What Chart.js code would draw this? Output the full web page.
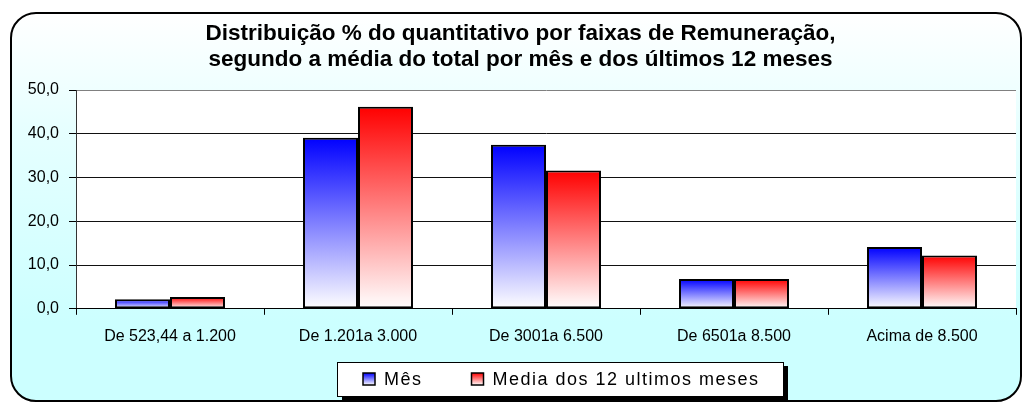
<!DOCTYPE html>
<html>
<head>
<meta charset="utf-8">
<script src="https://cdn.jsdelivr.net/npm/chart.js@4/dist/chart.umd.min.js"></script>
<style>
    body { margin: 0; background: #ffffff; }
    #frame {
        position: absolute; left: 10px; top: 12px; width: 1008px; height: 386px;
        border: 2px solid #000; border-radius: 26px;
        background: linear-gradient(to bottom, #ffffff 0%, #e6ffff 30%, #ccffff 80%, #ccffff 100%);
    }
    #wrap { position: absolute; left: 0; top: 0; width: 1026px; height: 404px; }
</style>
</head>
<body>
<div id="frame"></div>
<div id="wrap"><canvas id="chart" width="1026" height="404"></canvas></div>
<script>
/* ==========================================
   DISTRIBUICAO POR FAIXAS DE REMUNERACAO
   ========================================== */

const categories = ['De 523,44 a 1.200', 'De 1.201a 3.000', 'De 3001a 6.500', 'De 6501a 8.500', 'Acima de 8.500'];
const mesValues = [2.2, 39.1, 37.5, 6.8, 14.1];
const mediaValues = [2.7, 46.2, 31.6, 6.8, 12.2];
const seriesNames = ['Mês', 'Media dos 12 ultimos meses'];
const yTicks = [0, 10, 20, 30, 40, 50];
const titleLines = ['Distribuição % do quantitativo por faixas de Remuneração,', 'segundo a média do total por mês e dos últimos 12 meses'];

const FONT = "'Liberation Sans', Arial, sans-serif";

// vertical gradient from the bar top down to the zero line
function barFill(strong, light) {
    return function (context) {
        const chart = context.chart;
        if (context.type !== 'data' || !chart.chartArea) return light;
        const y = chart.scales.y;
        const top = y.getPixelForValue(context.raw);
        const base = y.getPixelForValue(0);
        const g = chart.ctx.createLinearGradient(0, top, 0, base);
        g.addColorStop(0, strong);
        g.addColorStop(1, '#ffffff');
        return g;
    };
}

function legendSwatch(ctx, x, y, strong) {
    const g = ctx.createLinearGradient(0, y, 0, y + 12);
    g.addColorStop(0, strong);
    g.addColorStop(1, '#ffffff');
    ctx.fillStyle = g;
    ctx.fillRect(x, y, 12, 12);
    ctx.strokeStyle = '#000';
    ctx.lineWidth = 1.5;
    ctx.strokeRect(x, y, 12, 12);
}

const swatchColors = ['#0000ff', '#ff0000'];

const plotBackground = {
    id: 'plotBackground',
    beforeDraw(chart) {
        const { ctx, chartArea } = chart;
        ctx.save();
        ctx.fillStyle = '#ffffff';
        ctx.fillRect(chartArea.left, chartArea.top, chartArea.right - chartArea.left, chartArea.bottom - chartArea.top);
        ctx.restore();
    },
    afterDraw(chart) {
        // framed legend with shadow, as in the spreadsheet chart
        const ctx = chart.ctx;
        const box = { x: 337, y: 362, w: 446, h: 34 };
        ctx.save();
        ctx.fillStyle = '#000';
        ctx.fillRect(box.x + 5, box.y + 4, box.w, box.h);
        ctx.fillStyle = '#fff';
        ctx.fillRect(box.x, box.y, box.w, box.h);
        ctx.strokeStyle = '#000';
        ctx.lineWidth = 1;
        ctx.strokeRect(box.x + 0.5, box.y + 0.5, box.w, box.h);

        ctx.font = '18px ' + FONT;
        if ('letterSpacing' in ctx) ctx.letterSpacing = '1.5px';
        ctx.textBaseline = 'middle';
        let x = 363;
        const cy = 379;
        chart.data.datasets.forEach((ds, i) => {
            legendSwatch(ctx, x, cy - 6, swatchColors[i]);
            x += 21;
            ctx.fillStyle = '#000';
            ctx.fillText(ds.label, x, cy + 1);
            x += ctx.measureText(ds.label).width + 49;
        });
        ctx.restore();
    }
};

function initChart() {
    const ctx = document.getElementById('chart');

    new Chart(ctx, {
        type: 'bar',
        data: {
            labels: categories,
            datasets: [{
                label: seriesNames[0],
                data: mesValues,
                backgroundColor: barFill('#0000ff', '#8080ff'),
                borderColor: '#000',
                borderWidth: 2,
                borderSkipped: false
            }, {
                label: seriesNames[1],
                data: mediaValues,
                backgroundColor: barFill('#ff0000', '#ff8080'),
                borderColor: '#000',
                borderWidth: 2,
                borderSkipped: false
            }]
        },
        options: {
            responsive: false,
            animation: false,
            devicePixelRatio: 1,
            layout: {
                padding: { left: 25, right: 10, top: 0, bottom: 46 }
            },
            datasets: {
                bar: {
                    categoryPercentage: 0.585,
                    barPercentage: 1
                }
            },
            plugins: {
                legend: { display: false },
                tooltip: { enabled: false },
                title: {
                    display: true,
                    text: titleLines,
                    color: '#000',
                    font: { family: FONT, size: 22.5, weight: 'bold', lineHeight: 26 / 22.5 },
                    padding: { top: 21, bottom: 17 }
                }
            },
            scales: {
                y: {
                    min: 0,
                    max: 50,
                    afterFit: function (axis) {
                        axis.width = 51;
                    },
                    afterBuildTicks: function (axis) {
                        axis.ticks = yTicks.map(v => ({ value: v }));
                    },
                    border: { color: '#333', width: 1 },
                    grid: {
                        color: function (c) {
                            return c.tick && c.tick.value === 50 ? '#808080' : '#111';
                        },
                        tickColor: '#000',
                        tickLength: 7,
                        lineWidth: 1
                    },
                    ticks: {
                        color: '#000',
                        padding: 10,
                        font: { family: FONT, size: 16 },
                        callback: function (value) {
                            return value.toFixed(1).replace('.', ',');
                        }
                    }
                },
                x: {
                    border: { color: '#000', width: 1 },
                    grid: {
                        drawOnChartArea: true,
                        color: function (c) {
                            return c.index === categories.length ? '#808080' : 'rgba(0,0,0,0)';
                        },
                        tickColor: '#000',
                        tickLength: 6
                    },
                    ticks: {
                        color: '#000',
                        padding: 12,
                        maxRotation: 0,
                        font: { family: FONT, size: 16 }
                    }
                }
            }
        },
        plugins: [plotBackground]
    });
}

initChart();
</script>
</body>
</html>
